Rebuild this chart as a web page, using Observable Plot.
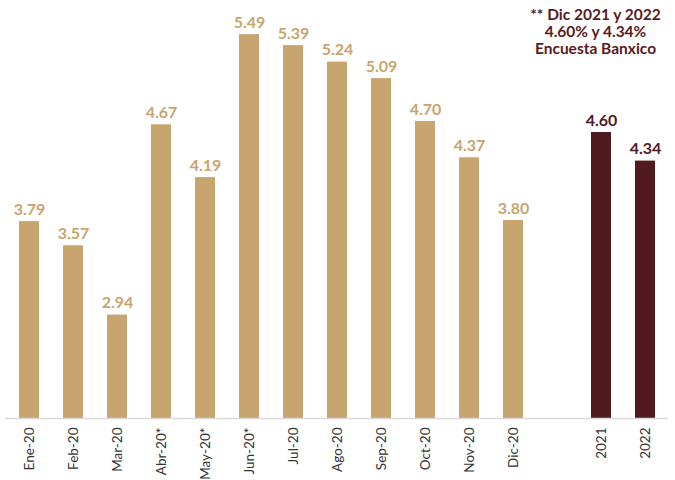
<!DOCTYPE html>
<html>
<head>
<meta charset="utf-8">
<script src="https://cdn.jsdelivr.net/npm/d3@7"></script>
<script src="https://cdn.jsdelivr.net/npm/@observablehq/plot@0.6"></script>
<style>
  body { margin: 0; background: #fff; }
  #chart { width: 675px; height: 480px; }
</style>
</head>
<body>
<div id="chart"></div>
<script>
const categories = ["Ene-20","Feb-20","Mar-20","Abr-20*","May-20*","Jun-20*","Jul-20","Ago-20","Sep-20","Oct-20","Nov-20","Dic-20","gap","2021","2022"];
const labels = ["Ene-20","Feb-20","Mar-20","Abr-20*","May-20*","Jun-20*","Jul-20","Ago-20","Sep-20","Oct-20","Nov-20","Dic-20","2021","2022"];
const values = [3.79,3.57,2.94,4.67,4.19,5.49,5.39,5.24,5.09,4.70,4.37,3.80,4.60,4.34];
const kinds = ["m","m","m","m","m","m","m","m","m","m","m","m","y","y"];
const note = "** Dic 2021 y 2022\n4.60% y 4.34%\nEncuesta Banxico";

const colors = {m: "#C8A46F", y: "#501A1F"};
const data = labels.map((l, i) => ({label: l, value: values[i], kind: kinds[i]}));

const chart = Plot.plot({
  width: 675,
  height: 480,
  marginTop: 0,
  marginLeft: 5,
  marginRight: 7,
  marginBottom: 62,
  style: {fontFamily: "Lato, 'DejaVu Sans', sans-serif", background: "#fff"},
  x: {domain: categories, paddingInner: 0.55, paddingOuter: 0.275, label: null},
  y: {domain: [2, 5.8], axis: null},
  marks: [
    Plot.barY(data, {x: "label", y1: 2, y2: "value", fill: d => colors[d.kind]}),
    Plot.ruleY([2], {stroke: "#d9d9d9", strokeWidth: 1.5}),
    Plot.text(data, {x: "label", y: "value", text: d => d.value.toFixed(2), lineAnchor: "bottom", dy: -7,
      fill: d => colors[d.kind], fontWeight: "bold", fontSize: 16}),
    Plot.axisX({tickSize: 0, tickPadding: 9, tickRotate: -90, fontSize: 13.5, fill: "#333",
      tickFormat: d => d === "gap" ? "" : d}),
    Plot.text([note], {frameAnchor: "top-right", dx: -73, dy: 8, textAnchor: "middle", lineAnchor: "top",
      fill: "#5A1A21", fontWeight: "bold", fontSize: 15.5, lineHeight: 1.08})
  ]
});
document.getElementById("chart").appendChild(chart);
</script>
</body>
</html>
